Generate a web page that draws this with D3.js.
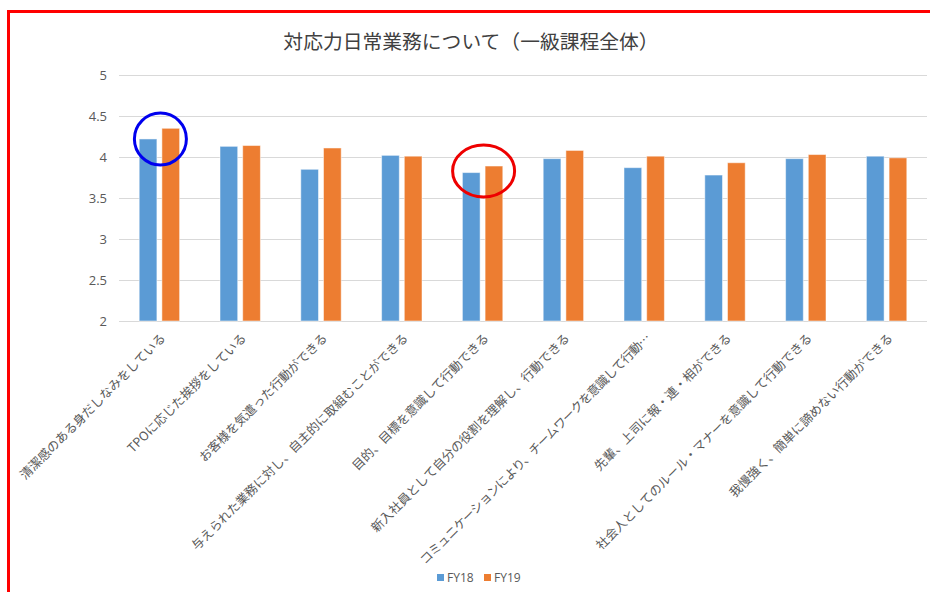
<!DOCTYPE html>
<html><head><meta charset="utf-8">
<script src="https://cdn.jsdelivr.net/npm/d3@7"></script>
<style>
html,body{margin:0;padding:0;background:#fff;}
svg{display:block;}
</style></head>
<body>
<svg id="chart" width="930" height="592"></svg>
<script>
const title = "対応力日常業務について（一級課程全体）";
const categories = [
  "清潔感のある身だしなみをしている",
  "TPOに応じた挨拶をしている",
  "お客様を気遣った行動ができる",
  "与えられた業務に対し、自主的に取組むことができる",
  "目的、目標を意識して行動できる",
  "新入社員として自分の役割を理解し、行動できる",
  "コミュニケーションにより、チームワークを意識して行動…",
  "先輩、上司に報・連・相ができる",
  "社会人としてのルール・マナーを意識して行動できる",
  "我慢強く、簡単に諦めない行動ができる"
];
const seriesNames = ["FY18", "FY19"];
const fy18 = [4.22, 4.13, 3.85, 4.02, 3.81, 3.98, 3.87, 3.78, 3.98, 4.01];
const fy19 = [4.35, 4.14, 4.11, 4.01, 3.89, 4.08, 4.01, 3.93, 4.03, 3.99];
const yTicks = [2, 2.5, 3, 3.5, 4, 4.5, 5];
const colors = ["#5B9BD5", "#ED7D31"];
// highlighted categories (annotation ellipses)
const highlights = [
  {cat: 0, value: 4.22, color: "#0000EE", rx: 26, ry: 26},
  {cat: 4, value: 3.83, color: "#EE0000", rx: 31, ry: 26}
];

const svg = d3.select("#chart");
const plotLeft = 119, plotRight = 927, plotTop = 75, plotBottom = 321;

const y = d3.scaleLinear().domain([2, 5]).range([plotBottom, plotTop]);
const x0 = d3.scaleBand().domain(d3.range(categories.length)).range([plotLeft, plotRight])
  .paddingInner(0.5).paddingOuter(0.25);
const x1 = d3.scaleBand().domain(seriesNames).range([0, x0.bandwidth()]).paddingInner(0.22);

// red frame
svg.append("rect").attr("x", 8.5).attr("y", 11.5).attr("width", 960).attr("height", 620)
  .attr("fill", "none").attr("stroke", "#FF0000").attr("stroke-width", 3);

// title
svg.append("text").attr("x", 471).attr("y", 49).attr("text-anchor", "middle")
  .attr("font-family", "'Noto Sans CJK JP', sans-serif").attr("font-size", 19.8)
  .attr("fill", "#404040").text(title);

// gridlines
const yAxis = d3.axisLeft(y).tickValues(yTicks).tickSize(-(plotRight - plotLeft)).tickPadding(12)
  .tickFormat(d3.format("~g"));
const gy = svg.append("g").attr("transform", `translate(${plotLeft},0)`).call(yAxis);
gy.select(".domain").remove();
gy.selectAll(".tick line").attr("stroke", "#D9D9D9").attr("stroke-width", 1);
gy.selectAll(".tick text").attr("fill", "#595959").attr("font-size", 13)
  .attr("font-family", "'Open Sans', 'Noto Sans', sans-serif");

// bars
const data = categories.map((c, i) => ({i, vals: [fy18[i], fy19[i]]}));
const groups = svg.append("g").selectAll("g").data(data).join("g")
  .attr("transform", d => `translate(${x0(d.i)},0)`);
groups.selectAll("rect").data(d => d.vals.map((v, k) => ({k, v}))).join("rect")
  .attr("x", d => x1(seriesNames[d.k]))
  .attr("y", d => y(d.v))
  .attr("width", x1.bandwidth())
  .attr("height", d => y(2) - y(d.v))
  .attr("fill", d => colors[d.k])
  .attr("stroke", "#ffffff").attr("stroke-opacity", 0.5).attr("stroke-width", 1);

// x labels
const xAxis = d3.axisBottom(x0).tickSize(0).tickFormat(i => categories[i]);
const gx = svg.append("g").attr("transform", `translate(0,${plotBottom})`).call(xAxis);
gx.select(".domain").remove();
gx.selectAll(".tick text")
  .attr("fill", "#595959").attr("font-size", 12.5)
  .attr("font-family", "'Noto Sans CJK JP', sans-serif")
  .attr("text-anchor", "end")
  .attr("dy", null).attr("y", 0)
  .attr("letter-spacing", i => i === 6 ? -0.6 : 0)
  .attr("transform", "translate(7,18) rotate(-45)");

// annotation ellipses
svg.append("g").selectAll("ellipse").data(highlights).join("ellipse")
  .attr("cx", d => x0(d.cat) + x0.bandwidth() / 2 + 1)
  .attr("cy", d => y(d.value))
  .attr("rx", d => d.rx).attr("ry", d => d.ry)
  .attr("fill", "none").attr("stroke", d => d.color).attr("stroke-width", 3);

// legend
const legend = svg.append("g").attr("transform", "translate(437,574)");
const li = legend.selectAll("g").data(seriesNames).join("g")
  .attr("transform", (d, i) => `translate(${i * 47},0)`);
li.append("rect").attr("width", 7).attr("height", 7).attr("fill", (d, i) => colors[i]);
li.append("text").attr("x", 10).attr("y", 7.5).attr("fill", "#595959").attr("font-size", 12)
  .attr("font-family", "'Open Sans', 'Noto Sans', sans-serif").text(d => d);
</script>
</body></html>
